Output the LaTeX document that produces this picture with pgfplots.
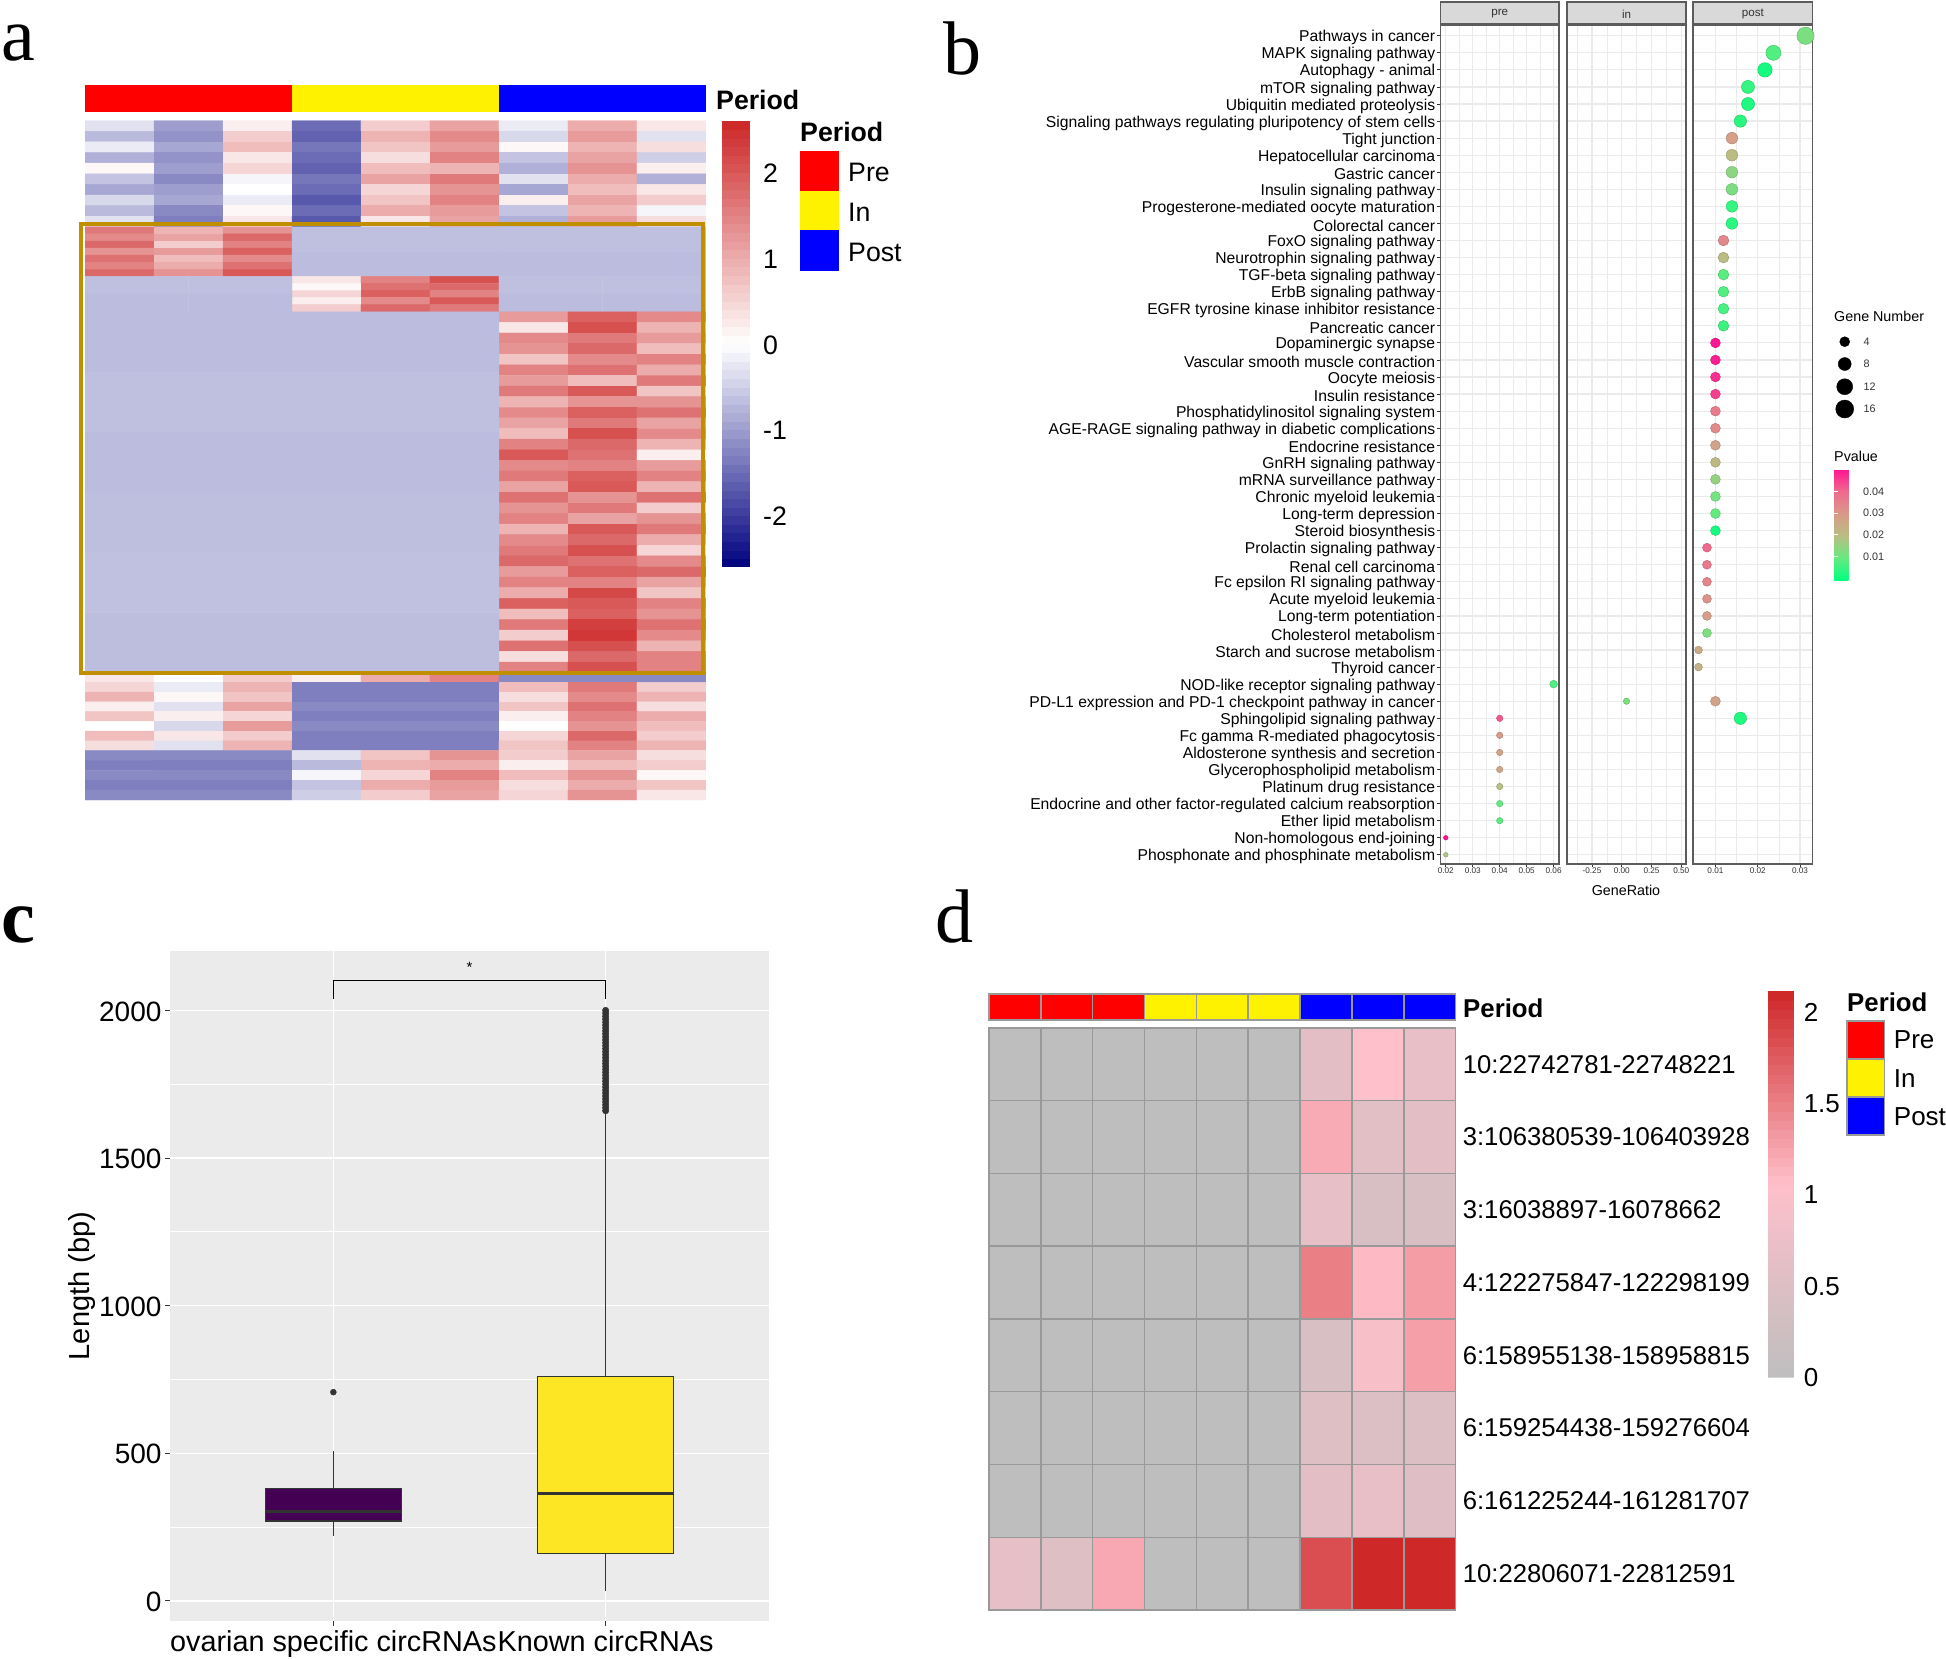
\documentclass[border=0pt]{standalone}
\usepackage{fontspec}
\setmainfont{Liberation Sans}
\newfontfamily\letterfont{Liberation Serif}
\usepackage{pgfplots}
\usepackage{pgfplotstable}
\pgfplotsset{compat=1.18}

% 1pt in this file is one pixel of the reference
\newcommand\fs[1]{\fontsize{#1}{#1}\selectfont}

\definecolor{gold}{RGB}{191,143,0}
\definecolor{plotbg}{RGB}{235,235,235}
\definecolor{gr20}{RGB}{51,51,51}
\definecolor{cellline}{RGB}{153,153,153}
\definecolor{stripfill}{RGB}{217,217,217}
\definecolor{vpurple}{RGB}{68,1,84}
\definecolor{vyellow}{RGB}{253,231,37}

\pgfplotsset{
  colormap={hotcold}{rgb255(0pt)=(0,0,128); rgb255(100pt)=(255,255,255); rgb255(200pt)=(205,38,38)},
  colormap={greypink}{rgb255(0pt)=(190,190,190); rgb255(100pt)=(255,192,203); rgb255(200pt)=(205,38,38)},
  colormap={pval}{rgb255(0pt)=(0,255,127); rgb255(100pt)=(100,235,128); rgb255(200pt)=(185,190,130); rgb255(300pt)=(218,153,138); rgb255(400pt)=(240,105,140); rgb255(500pt)=(255,20,147)},
  heat/.style={matrix plot*, mesh/cols=#1, point meta=explicit},
}

% panel d: row by row
\pgfplotstableread{
x y v
0 0 0
1 0 0
2 0 0
3 0 0
4 0 0
5 0 0
6 0 0.6
7 0 1.05
8 0 0.69
0 1 0
1 1 0
2 1 0
3 1 0
4 1 0
5 1 0
6 1 1.2
7 1 0.58
8 1 0.6
0 2 0
1 2 0
2 2 0
3 2 0
4 2 0
5 2 0
6 2 0.67
7 2 0.42
8 2 0.4
0 3 0
1 3 0
2 3 0
3 3 0
4 3 0
5 3 0
6 3 1.5
7 3 1.1
8 3 1.3
0 4 0
1 4 0
2 4 0
3 4 0
4 4 0
5 4 0
6 4 0.4
7 4 0.92
8 4 1.28
0 5 0
1 5 0
2 5 0
3 5 0
4 5 0
5 5 0
6 5 0.5
7 5 0.48
8 5 0.48
0 6 0
1 6 0
2 6 0
3 6 0
4 6 0
5 6 0
6 6 0.6
7 6 0.7
8 6 0.53
0 7 0.67
1 7 0.5
2 7 1.22
3 7 0
4 7 0
5 7 0
6 7 1.85
7 7 2.1
8 7 2.1
}\hmd

% panel b: row, gene ratio, p value, gene number
\pgfplotstableread{
y x p n
39 0.06 0.007 3
41 0.04 0.042 2
42 0.04 0.029 2
43 0.04 0.027 2
44 0.04 0.026 2
45 0.04 0.019 2
46 0.04 0.009 2
47 0.04 0.008 2
48 0.02 0.050 1
49 0.02 0.018 1
}\bpre
\pgfplotstableread{
y x p n
40 0.04 0.012 2
}\bin
\pgfplotstableread{
y x p n
1 0.0313 0.012 16
2 0.0237 0.007 12
3 0.0217 0.001 11
4 0.0177 0.004 9
5 0.0177 0.002 9
6 0.0159 0.003 8
7 0.0139 0.028 7
8 0.0139 0.020 7
9 0.0139 0.014 7
10 0.0139 0.012 7
11 0.0139 0.004 7
12 0.0139 0.003 7
13 0.0119 0.033 6
14 0.0119 0.020 6
15 0.0119 0.008 6
16 0.0119 0.007 6
17 0.0119 0.006 6
18 0.0119 0.005 6
19 0.0100 0.050 5
20 0.0100 0.049 5
21 0.0100 0.047 5
22 0.0100 0.045 5
23 0.0100 0.036 5
24 0.0100 0.033 5
25 0.0100 0.027 5
26 0.0100 0.021 5
27 0.0100 0.015 5
28 0.0100 0.011 5
29 0.0100 0.009 5
30 0.0100 0.001 5
31 0.0080 0.040 4
32 0.0080 0.037 4
33 0.0080 0.034 4
34 0.0080 0.031 4
35 0.0080 0.028 4
36 0.0080 0.012 4
37 0.0060 0.025 3
38 0.0060 0.023 3
40 0.0100 0.027 5
41 0.0159 0.002 8
}\bpost

\pgfplotsset{
  bfacet/.style={
    scale only axis,
    height=839pt,
    y dir=reverse,
    ymin=0.37, ymax=49.54,
    ytick={1,...,49},
    yticklabels={},
    scaled ticks=false,
    clip=true,
    axis line style={draw=gr20!80, line width=1.5pt},
    xmajorgrids, ymajorgrids, xminorgrids,
    major grid style={draw=plotbg, line width=1.2pt},
    minor grid style={draw=plotbg, line width=0.6pt},
    minor tick length=0pt,
    xtick pos=lower, ytick pos=left,
    tick align=outside,
    xtick style={draw=gr20, line width=0.8pt},
    ytick style={draw=none},
    major tick length=3pt,
    xticklabel style={font=\fs{8.2}, text=gr20, inner sep=1pt},
    yticklabel style={font=\fs{15.7}, text=black, inner sep=2pt, yshift=-2pt},
    colormap name=pval,
    point meta min=-0.0012, point meta max=0.0503,
  },
  bdots/.style={
    scatter, only marks, mark=*,
    point meta=\thisrow{p},
    visualization depends on={2.1*sqrt(\thisrow{n})+0.25 \as \perpointmarksize},
    scatter/@pre marker code/.append style={/tikz/mark size=\perpointmarksize},
  },
}

\newcommand\swatch[5]{\addplot[fill=#1,draw=none] coordinates {(#2,#3)(#4,#3)(#4,#5)(#2,#5)} --cycle;}
\newcommand\cell[5]{\addplot[fill=#1,draw=cellline,line width=1.5pt] coordinates {(#2,#3)(#4,#3)(#4,#5)(#2,#5)} --cycle;}
\newcommand\strip[4]{\addplot[fill=#1,draw=gr20!80,line width=1.5pt] coordinates {(#2,2)(#3,2)(#3,#4)(#2,#4)} --cycle;}

\begin{document}
\begin{tikzpicture}
\path[use as bounding box] (0,0) rectangle (1946pt,-1659pt);

% panel a
\begin{axis}[
  at={(85pt,-800pt)}, anchor=south west,
  scale only axis, width=621pt, height=679.3pt,
  hide axis,
  y dir=reverse,
  xmin=-0.5, xmax=8.5, ymin=-0.5, ymax=95.5,
  colormap name=hotcold,
  point meta min=-2.6, point meta max=2.6,
  colorbar sampled,
  colorbar style={
    samples=53,
    scale only axis,
    at={(1.0258,1)}, anchor=north west,
    width=28pt, height=446.3pt,
    axis line style={draw=none},
    tick style={draw=none},
    major tick length=0pt,
    yticklabel pos=right,
    ytick={-2,-1,0,1,2},
    yticklabels={-2,-1,0,1,2},
    yticklabel style={font=\fs{26.7}, anchor=west, inner sep=0pt, xshift=13pt, yshift=-1pt},
  },
]
% first cluster, all samples
\addplot[heat=9] coordinates {
(0,0.25)[-0.3](1,0.25)[-1](2,0.25)[0.2](3,0.25)[-1.5](4,0.25)[0.6](5,0.25)[1.1](6,0.25)[-0.2](7,0.25)[1](8,0.25)[0.3]
(0,1.75)[-0.7](1,1.75)[-1.1](2,1.75)[0.6](3,1.75)[-1.6](4,1.75)[0.9](5,1.75)[1.4](6,1.75)[-0.4](7,1.75)[1.2](8,1.75)[-0.3]
(0,3.25)[-0.2](1,3.25)[-0.9](2,3.25)[0.8](3,3.25)[-1.4](4,3.25)[0.7](5,3.25)[1.2](6,3.25)[0.1](7,3.25)[0.9](8,3.25)[0.4]
(0,4.75)[-0.8](1,4.75)[-1.1](2,4.75)[0.3](3,4.75)[-1.5](4,4.75)[0.4](5,4.75)[1.5](6,4.75)[-0.6](7,4.75)[1.1](8,4.75)[-0.5]
(0,6.25)[0.1](1,6.25)[-1](2,6.25)[0.5](3,6.25)[-1.6](4,6.25)[0.8](5,6.25)[0.9](6,6.25)[-0.8](7,6.25)[1.3](8,6.25)[0.2]
(0,7.75)[-0.6](1,7.75)[-1.2](2,7.75)[-0.1](3,7.75)[-1.4](4,7.75)[1.1](5,7.75)[1.6](6,7.75)[-0.3](7,7.75)[1](8,7.75)[-0.8]
(0,9.25)[-0.9](1,9.25)[-1](2,9.25)[0](3,9.25)[-1.5](4,9.25)[0.5](5,9.25)[1.3](6,9.25)[-0.9](7,9.25)[0.8](8,9.25)[0.3]
(0,10.75)[-0.4](1,10.75)[-0.9](2,10.75)[-0.2](3,10.75)[-1.7](4,10.75)[0.7](5,10.75)[1.5](6,10.75)[0.2](7,10.75)[1.1](8,10.75)[0.6]
(0,12.25)[-0.7](1,12.25)[-1.2](2,12.25)[0.1](3,12.25)[-1.5](4,12.25)[1](5,12.25)[1.2](6,12.25)[-0.6](7,12.25)[0.9](8,12.25)[-0.1]
(0,13.75)[-0.3](1,13.75)[-1.3](2,13.75)[0.3](3,13.75)[-1.7](4,13.75)[0.3](5,13.75)[1.1](6,13.75)[-0.8](7,13.75)[1.2](8,13.75)[0.4]
};
% high in pre
\addplot[heat=3] coordinates {
(0,15)[1.6](1,15)[0.9](2,15)[1.3]
(0,16)[1.4](1,16)[1.1](2,16)[1.8]
(0,17)[1.8](1,17)[0.6](2,17)[1.5]
(0,18)[1.3](1,18)[1.2](2,18)[1.9]
(0,19)[1.7](1,19)[0.8](2,19)[1.4]
(0,20)[1.5](1,20)[1](2,20)[1.7]
(0,21)[1.8](1,21)[1.3](2,21)[2]
};
\addplot[heat=2] coordinates {(4,16.25)[-0.65](7,16.25)[-0.65](4,19.75)[-0.68](7,19.75)[-0.68]};
% high in in
\addplot[heat=3] coordinates {
(3,22)[0.3](4,22)[1.5](5,22)[2.1]
(3,23)[0.1](4,23)[1.7](5,23)[1.8]
(3,24)[0.5](4,24)[1.9](5,24)[1.5]
(3,25)[0.2](4,25)[1.4](5,25)[2]
(3,26)[0.6](4,26)[1.8](5,26)[1.6]
};
\addplot[heat=2] coordinates {(0.25,22.75)[-0.65](1.75,22.75)[-0.65](0.25,25.25)[-0.68](1.75,25.25)[-0.68]};
\addplot[heat=2] coordinates {(6.25,22.75)[-0.65](7.75,22.75)[-0.65](6.25,25.25)[-0.68](7.75,25.25)[-0.68]};
% high in post
\addplot[heat=3] coordinates {
(6,27.25)[1.2](7,27.25)[1.9](8,27.25)[1.4]
(6,28.75)[0.3](7,28.75)[2.1](8,28.75)[0.9]
(6,30.25)[1.4](7,30.25)[1.6](8,30.25)[1.2]
(6,31.75)[1.3](7,31.75)[1.8](8,31.75)[0.8]
(6,33.25)[0.7](7,33.25)[1.4](8,33.25)[1.5]
(6,34.75)[1.5](7,34.75)[1.7](8,34.75)[1]
(6,36.25)[1.2](7,36.25)[0.8](8,36.25)[1.6]
(6,37.75)[1.6](7,37.75)[2](8,37.75)[0.7]
(6,39.25)[0.9](7,39.25)[1.3](8,39.25)[1.3]
(6,40.75)[1.4](7,40.75)[1.9](8,40.75)[1.7]
(6,42.25)[1.1](7,42.25)[1.6](8,42.25)[1.1]
(6,43.75)[0.8](7,43.75)[2.1](8,43.75)[1.4]
(6,45.25)[1.5](7,45.25)[1.8](8,45.25)[0.9]
(6,46.75)[2](7,46.75)[1.7](8,46.75)[0.2]
(6,48.25)[1.4](7,48.25)[1.5](8,48.25)[1.2]
(6,49.75)[1.6](7,49.75)[1.9](8,49.75)[1.5]
(6,51.25)[1.1](7,51.25)[2](8,51.25)[0.9]
(6,52.75)[1.7](7,52.75)[1.3](8,52.75)[1.7]
(6,54.25)[1.3](7,54.25)[1.6](8,54.25)[0.6]
(6,55.75)[1.5](7,55.75)[1.1](8,55.75)[1.3]
(6,57.25)[0.9](7,57.25)[2](8,57.25)[1.6]
(6,58.75)[1.4](7,58.75)[1.8](8,58.75)[1]
(6,60.25)[1.6](7,60.25)[2.1](8,60.25)[0.5]
(6,61.75)[1.8](7,61.75)[1.7](8,61.75)[1.4]
(6,63.25)[1.2](7,63.25)[1.9](8,63.25)[1.8]
(6,64.75)[1.5](7,64.75)[1.5](8,64.75)[1.1]
(6,66.25)[1](7,66.25)[2.2](8,66.25)[0.7]
(6,67.75)[1.9](7,67.75)[2](8,67.75)[1.5]
(6,69.25)[0.8](7,69.25)[1.9](8,69.25)[1.3]
(6,70.75)[1.6](7,70.75)[2.3](8,70.75)[1.7]
(6,72.25)[0.6](7,72.25)[2.4](8,72.25)[1.4]
(6,73.75)[1.7](7,73.75)[2.1](8,73.75)[0.9]
(6,75.25)[0.4](7,75.25)[1.8](8,75.25)[1.5]
(6,76.75)[1.5](7,76.75)[2.1](8,76.75)[1.5]
};
\addplot[heat=2] coordinates {
(1,30.75)[-0.68](4,30.75)[-0.68]
(1,39.25)[-0.65](4,39.25)[-0.65]
(1,47.75)[-0.68](4,47.75)[-0.68]
(1,56.25)[-0.66](4,56.25)[-0.66]
(1,64.75)[-0.64](4,64.75)[-0.64]
(1,73.25)[-0.67](4,73.25)[-0.67]
};
% pre and post high, in low
\addplot[heat=9] coordinates {
(0,78.1875)[0.3](1,78.1875)[0](2,78.1875)[0.6](3,78.1875)[0.2](4,78.1875)[1](5,78.1875)[1.5](6,78.1875)[-1.2](7,78.1875)[-1.2](8,78.1875)[-1.2]
(0,79.5625)[0.5](1,79.5625)[-0.2](2,79.5625)[0.9](3,79.5625)[-1.3](4,79.5625)[-1.3](5,79.5625)[-1.3](6,79.5625)[0.8](7,79.5625)[1.6](8,79.5625)[0.6]
(0,80.9375)[0.9](1,80.9375)[0.1](2,80.9375)[0.7](3,80.9375)[-1.3](4,80.9375)[-1.3](5,80.9375)[-1.3](6,80.9375)[0.4](7,80.9375)[1.4](8,80.9375)[0.9]
(0,82.3125)[0.2](1,82.3125)[-0.3](2,82.3125)[1.1](3,82.3125)[-1.2](4,82.3125)[-1.2](5,82.3125)[-1.2](6,82.3125)[0.7](7,82.3125)[1.7](8,82.3125)[0.4]
(0,83.6875)[0.7](1,83.6875)[0.2](2,83.6875)[0.5](3,83.6875)[-1.3](4,83.6875)[-1.3](5,83.6875)[-1.3](6,83.6875)[0.2](7,83.6875)[1.5](8,83.6875)[1]
(0,85.0625)[0](1,85.0625)[-0.4](2,85.0625)[1.2](3,85.0625)[-1.2](4,85.0625)[-1.2](5,85.0625)[-1.2](6,85.0625)[0](7,85.0625)[1.3](8,85.0625)[0.8]
(0,86.4375)[0.8](1,86.4375)[0.3](2,86.4375)[0.6](3,86.4375)[-1.3](4,86.4375)[-1.3](5,86.4375)[-1.3](6,86.4375)[0.5](7,86.4375)[1.8](8,86.4375)[0.6]
(0,87.8125)[0.4](1,87.8125)[-0.3](2,87.8125)[0.9](3,87.8125)[-1.3](4,87.8125)[-1.3](5,87.8125)[-1.3](6,87.8125)[0.7](7,87.8125)[1.5](8,87.8125)[0.9]
};
% in and post high, pre low
\addplot[heat=9] coordinates {
(0,89.2)[-1.2](1,89.2)[-1.2](2,89.2)[-1.2](3,89.2)[-0.3](4,89.2)[0.7](5,89.2)[1.3](6,89.2)[0.6](7,89.2)[1.1](8,89.2)[0.4]
(0,90.6)[-1.3](1,90.6)[-1.3](2,90.6)[-1.3](3,90.6)[-0.7](4,90.6)[0.9](5,90.6)[1](6,90.6)[0.2](7,90.6)[0.8](8,90.6)[0.6]
(0,92)[-1.2](1,92)[-1.2](2,92)[-1.2](3,92)[-0.1](4,92)[0.5](5,92)[1.5](6,92)[0.8](7,92)[1.3](8,92)[0.1]
(0,93.4)[-1.3](1,93.4)[-1.3](2,93.4)[-1.3](3,93.4)[-0.6](4,93.4)[1](5,93.4)[1.2](6,93.4)[0.4](7,93.4)[1](8,93.4)[0.7]
(0,94.8)[-1.2](1,94.8)[-1.2](2,94.8)[-1.2](3,94.8)[-0.5](4,94.8)[0.6](5,94.8)[1.1](6,94.8)[0.5](7,94.8)[1.3](8,94.8)[0.3]
};
\end{axis}

% panel b
\begin{axis}[
  bfacet,
  at={(1440.4pt,-864pt)}, anchor=south west, width=118.6pt,
  xmin=0.018, xmax=0.062,
  xtick={0.02,0.03,0.04,0.05,0.06},
  xticklabels={0.02,0.03,0.04,0.05,0.06},
  minor xtick={0.025,0.035,0.045,0.055},
  ytick style={draw=gr20, line width=0.8pt},
  yticklabels={Pathways in cancer,MAPK signaling pathway,Autophagy - animal,mTOR signaling pathway,Ubiquitin mediated proteolysis,Signaling pathways regulating pluripotency of stem cells,Tight junction,Hepatocellular carcinoma,Gastric cancer,Insulin signaling pathway,Progesterone-mediated oocyte maturation,Colorectal cancer,FoxO signaling pathway,Neurotrophin signaling pathway,TGF-beta signaling pathway,ErbB signaling pathway,EGFR tyrosine kinase inhibitor resistance,Pancreatic cancer,Dopaminergic synapse,Vascular smooth muscle contraction,Oocyte meiosis,Insulin resistance,Phosphatidylinositol signaling system,AGE-RAGE signaling pathway in diabetic complications,Endocrine resistance,GnRH signaling pathway,mRNA surveillance pathway,Chronic myeloid leukemia,Long-term depression,Steroid biosynthesis,Prolactin signaling pathway,Renal cell carcinoma,Fc epsilon RI signaling pathway,Acute myeloid leukemia,Long-term potentiation,Cholesterol metabolism,Starch and sucrose metabolism,Thyroid cancer,NOD-like receptor signaling pathway,PD-L1 expression and PD-1 checkpoint pathway in cancer,Sphingolipid signaling pathway,Fc gamma R-mediated phagocytosis,Aldosterone synthesis and secretion,Glycerophospholipid metabolism,Platinum drug resistance,Endocrine and other factor-regulated calcium reabsorption,Ether lipid metabolism,Non-homologous end-joining,Phosphonate and phosphinate metabolism},
]
\addplot[bdots] table[x=x,y=y] {\bpre};
\end{axis}

\begin{axis}[
  bfacet,
  at={(1567pt,-864pt)}, anchor=south west, width=119pt,
  xmin=-0.46, xmax=0.54,
  xtick={-0.25,0,0.25,0.5},
  xticklabels={-0.25,0.00,0.25,0.50},
  minor xtick={-0.375,-0.125,0.125,0.375},
]
\addplot[bdots] table[x=x,y=y] {\bin};
\end{axis}

\begin{axis}[
  bfacet,
  at={(1693pt,-864pt)}, anchor=south west, width=119.7pt,
  xmin=0.0047, xmax=0.0330,
  xtick={0.01,0.02,0.03},
  xticklabels={0.01,0.02,0.03},
  minor xtick={0.015,0.025},
  colorbar,
  colorbar style={
    scale only axis,
    scaled ticks=false,
    at={(1.178,0.4708)}, anchor=north west,
    width=22pt, height=111.7pt,
    axis line style={draw=none},
    ytick={0.01,0.02,0.03,0.04},
    yticklabels={0.01,0.02,0.03,0.04},
    ytick style={draw=white, line width=0.8pt},
    tick align=inside,
    major tick length=4pt,
    ytick pos=both,
    yticklabel pos=right,
    yticklabel style={font=\fs{10.8}, text=gr20, anchor=west, inner sep=0pt, xshift=7pt},
  },
]
\addplot[bdots] table[x=x,y=y] {\bpost};
\end{axis}

% panel c
\begin{axis}[
  at={(170pt,-1621pt)}, anchor=south west,
  scale only axis, width=599pt, height=670pt,
  xmin=0.4, xmax=2.6, ymin=-68, ymax=2201,
  axis background/.style={fill=plotbg},
  axis line style={draw=none},
  xtick={1,2},
  xticklabels={ovarian specific circRNAs,Known circRNAs},
  ytick={0,500,1000,1500,2000},
  yticklabels={0,500,1000,1500,2000},
  minor ytick={250,750,1250,1750},
  grid=both,
  major grid style={draw=white, line width=1.5pt},
  minor grid style={draw=white, line width=0.8pt},
  xtick pos=lower, ytick pos=left,
  tick align=outside,
  major tick length=5pt, minor tick length=0pt,
  tick style={draw=gr20, line width=1pt},
  xticklabel style={font=\fs{28.8}, text=black, yshift=-1pt},
  yticklabel style={font=\fs{28}, text=black, yshift=-1pt},
  ylabel={Length (bp)},
  ylabel style={font=\fs{29}, yshift=-3pt},
]
% whiskers
\addplot[draw=gr20, line width=1.3pt] coordinates {(1,221)(1,508)};
\addplot[draw=gr20, line width=1.3pt] coordinates {(2,33)(2,1650)};
% boxes
\addplot[draw=gr20, fill=vpurple, line width=1.3pt] coordinates {(0.75,271)(1.25,271)(1.25,380)(0.75,380)} --cycle;
\addplot[draw=gr20, fill=vyellow, line width=1.3pt] coordinates {(1.75,161)(2.25,161)(2.25,760)(1.75,760)} --cycle;
% medians
\addplot[draw=gr20, line width=3pt] coordinates {(0.75,302)(1.25,302)};
\addplot[draw=gr20, line width=3pt] coordinates {(1.75,364)(2.25,364)};
% outliers
\addplot[only marks, mark=*, mark size=3pt, gr20] coordinates {(1,707)};
\addplot[only marks, mark=*, mark size=3.2pt, gr20] coordinates {(2,1660)(2,1670)(2,1680)(2,1690)(2,1700)(2,1710)(2,1720)(2,1730)(2,1740)(2,1750)(2,1760)(2,1770)(2,1780)(2,1790)(2,1800)(2,1810)(2,1820)(2,1830)(2,1840)(2,1850)(2,1860)(2,1870)(2,1880)(2,1890)(2,1900)(2,1910)(2,1920)(2,1930)(2,1940)(2,1950)(2,1960)(2,1970)(2,1980)(2,1990)(2,2000)};
% significance bracket
\addplot[draw=black, line width=1.3pt] coordinates {(1,2040)(1,2100)(2,2100)(2,2040)};
\node[font=\fs{15}] at (axis cs:1.5,2146) {*};
\end{axis}

% panel d
\begin{axis}[
  at={(989pt,-1610pt)}, anchor=south west,
  scale only axis, width=466.6pt, height=582.2pt,
  y dir=reverse,
  xmin=-0.5, xmax=8.5, ymin=-0.5, ymax=7.5,
  axis on top,
  axis line style={draw=cellline, line width=1.5pt},
  xtick={0,1,2,3,4,5,6,7,8},
  xticklabels={},
  ytick={0,1,2,3,4,5,6,7},
  yticklabels={10:22742781-22748221,3:106380539-106403928,3:16038897-16078662,4:122275847-122298199,6:158955138-158958815,6:159254438-159276604,6:161225244-161281707,10:22806071-22812591},
  yticklabel pos=right,
  yticklabel style={font=\fs{25.7}, anchor=west, inner sep=0pt, xshift=7pt},
  major tick length=0pt, minor tick length=0pt,
  minor xtick={0.5,1.5,2.5,3.5,4.5,5.5,6.5,7.5},
  minor ytick={0.5,1.5,2.5,3.5,4.5,5.5,6.5},
  xminorgrids, yminorgrids,
  minor grid style={draw=cellline, line width=1.5pt},
  colormap name=greypink,
  point meta min=0, point meta max=2.115,
  colorbar sampled,
  colorbar style={
    samples=43,
    scale only axis,
    at={(1.6695,1.0632)}, anchor=north west,
    width=26pt, height=386.7pt,
    axis line style={draw=none},
    tick style={draw=none},
    major tick length=0pt,
    yticklabel pos=right,
    ytick={0,0.5,1,1.5,2},
    yticklabels={0,0.5,1,1.5,2},
    yticklabel style={font=\fs{26}, anchor=west, inner sep=0pt, xshift=9.6pt},
  },
]
\addplot[matrix plot*, mesh/cols=9, point meta=\thisrow{v}] table[x=x,y=y] {\hmd};
\end{axis}

% page wide axis, its units are reference pixels: colour bars, boxes, legends
\begin{axis}[
  at={(0pt,-1659pt)}, anchor=south west,
  scale only axis, width=1946pt, height=1659pt,
  hide axis, clip=false, y dir=reverse,
  xmin=0, xmax=1946, ymin=0, ymax=1659,
]
\swatch{red}{85}{84.7}{292}{112}
\swatch{yellow}{292}{84.7}{499}{112}
\swatch{blue}{499}{84.7}{706}{112}
\addplot[draw=gold, line width=4.7pt] coordinates {(81,224)(703,224)(703,673)(81,673)} --cycle;
\swatch{red}{800}{151}{839}{190.6}
\swatch{yellow}{800}{190.6}{839}{230}
\swatch{blue}{800}{230}{839}{270.5}

\strip{stripfill}{1440.4}{1559}{24}
\strip{stripfill}{1567}{1686}{24}
\strip{stripfill}{1693}{1812.7}{24}
\addplot[only marks, mark=*, mark size=5pt, black] coordinates {(1844.7,341.7)};
\addplot[only marks, mark=*, mark size=6.5pt, black] coordinates {(1844.7,364)};
\addplot[only marks, mark=*, mark size=8pt, black] coordinates {(1844.7,386.7)};
\addplot[only marks, mark=*, mark size=9pt, black] coordinates {(1844.7,409)};

\cell{red}{989}{994}{1040.8}{1020}
\cell{red}{1040.8}{994}{1092.7}{1020}
\cell{red}{1092.7}{994}{1144.5}{1020}
\cell{yellow}{1144.5}{994}{1196.4}{1020}
\cell{yellow}{1196.4}{994}{1248.2}{1020}
\cell{yellow}{1248.2}{994}{1300.1}{1020}
\cell{blue}{1300.1}{994}{1351.9}{1020}
\cell{blue}{1351.9}{994}{1403.8}{1020}
\cell{blue}{1403.8}{994}{1455.6}{1020}
\cell{red}{1847}{1021}{1884.6}{1058.8}
\cell{yellow}{1847}{1058.8}{1884.6}{1097}
\cell{blue}{1847}{1097}{1884.6}{1135}
\end{axis}

% panel letters and legend text
\node[anchor=base west, inner sep=0pt, font=\letterfont\fs{76}] at (1pt,-61pt) {a};
\node[anchor=base west, inner sep=0pt, font=\letterfont\fs{76}] at (943pt,-75pt) {b};
\node[anchor=base west, inner sep=0pt, font=\letterfont\bfseries\fs{76}] at (1pt,-942pt) {c};
\node[anchor=base west, inner sep=0pt, font=\letterfont\fs{76}] at (935pt,-942pt) {d};

\node[anchor=west, inner sep=0pt, font=\bfseries\fs{26.7}] at (716pt,-99.5pt) {Period};
\node[anchor=west, inner sep=0pt, font=\bfseries\fs{26.7}] at (800pt,-132pt) {Period};
\node[anchor=west, inner sep=0pt, font=\fs{26.7}] at (848pt,-172pt) {Pre};
\node[anchor=west, inner sep=0pt, font=\fs{26.7}] at (848pt,-212pt) {In};
\node[anchor=west, inner sep=0pt, font=\fs{26.7}] at (848pt,-252pt) {Post};

\node[font=\fs{11.6}, text=gr20] at (1499.7pt,-14pt) {pre};
\node[font=\fs{11.6}, text=gr20] at (1626.5pt,-14pt) {in};
\node[font=\fs{11.6}, text=gr20] at (1752.8pt,-14pt) {post};
\node[font=\fs{14.3}] at (1626pt,-890pt) {GeneRatio};
\node[anchor=west, inner sep=0pt, font=\fs{14.3}] at (1834pt,-316.7pt) {Gene Number};
\node[anchor=west, inner sep=0pt, font=\fs{14.3}] at (1834pt,-456pt) {Pvalue};
\node[anchor=west, inner sep=0pt, font=\fs{10.8}, text=gr20] at (1863.3pt,-341.7pt) {4};
\node[anchor=west, inner sep=0pt, font=\fs{10.8}, text=gr20] at (1863.3pt,-364pt) {8};
\node[anchor=west, inner sep=0pt, font=\fs{10.8}, text=gr20] at (1863.3pt,-386.7pt) {12};
\node[anchor=west, inner sep=0pt, font=\fs{10.8}, text=gr20] at (1863.3pt,-409pt) {16};

\node[anchor=west, inner sep=0pt, font=\bfseries\fs{25.8}] at (1463pt,-1008.4pt) {Period};
\node[anchor=west, inner sep=0pt, font=\bfseries\fs{25.8}] at (1847pt,-1002pt) {Period};
\node[anchor=west, inner sep=0pt, font=\fs{26}] at (1893.7pt,-1040pt) {Pre};
\node[anchor=west, inner sep=0pt, font=\fs{26}] at (1893.7pt,-1079pt) {In};
\node[anchor=west, inner sep=0pt, font=\fs{26}] at (1893.7pt,-1117pt) {Post};
\end{tikzpicture}
\end{document}
